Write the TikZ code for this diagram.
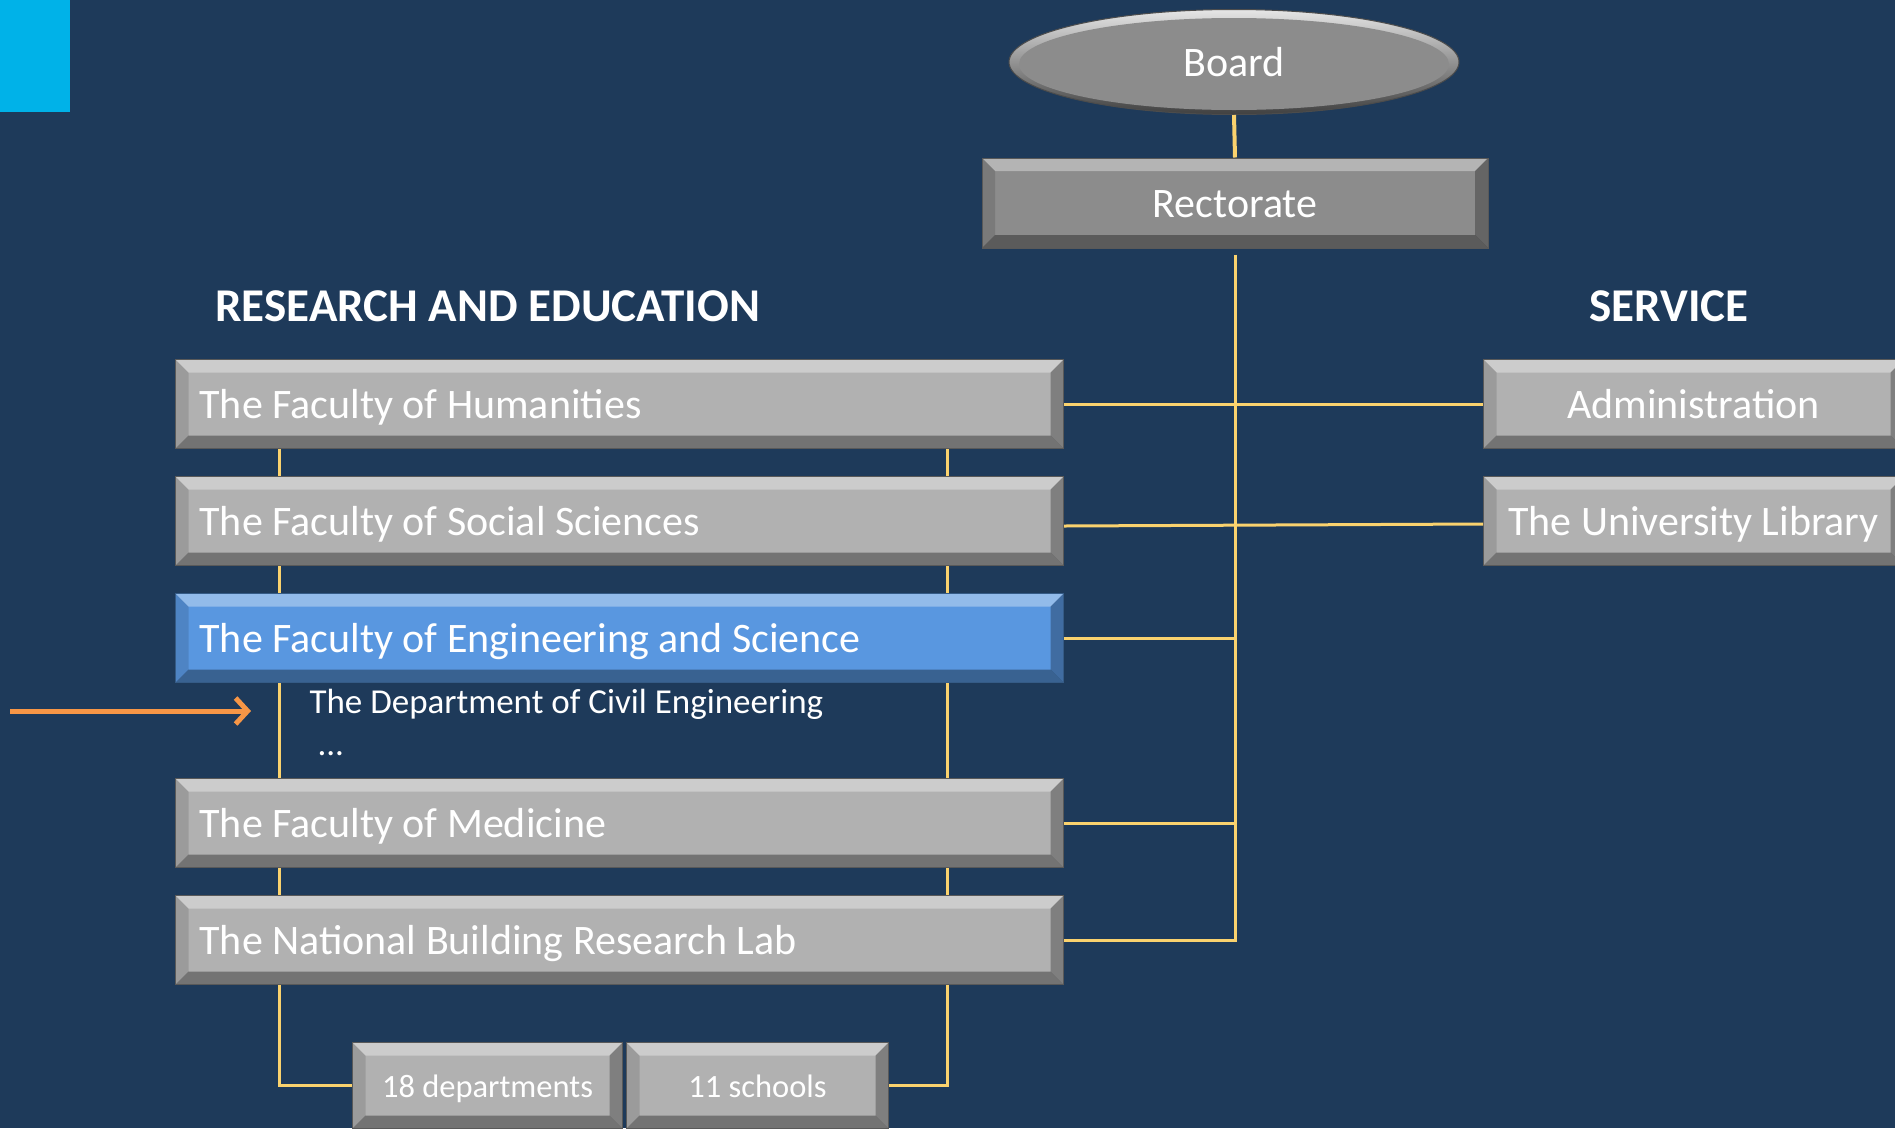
\documentclass[tikz,border=0pt]{standalone}
\usepackage{fontspec}
\setmainfont{Carlito}
\usetikzlibrary{positioning,shapes.geometric,arrows.meta}

\definecolor{slatebg}{RGB}{30,58,90}
\definecolor{cornercyan}{RGB}{0,178,232}
\definecolor{boxgray}{RGB}{177,177,177}
\definecolor{headgray}{RGB}{140,140,140}
\definecolor{facblue}{RGB}{89,151,224}
\definecolor{linkyellow}{RGB}{250,210,110}
\definecolor{pointer}{RGB}{247,150,70}

% bevelled edges drawn inside a rectangular node
\tikzset{
  bevel/.style={path picture={
    \coordinate (bnw) at (path picture bounding box.north west);
    \coordinate (bne) at (path picture bounding box.north east);
    \coordinate (bsw) at (path picture bounding box.south west);
    \coordinate (bse) at (path picture bounding box.south east);
    \fill[white,opacity=.35] (bnw) -- (bne) -- ([shift={(-#1,-#1)}]bne) -- ([shift={(#1,-#1)}]bnw) -- cycle;
    \fill[black,opacity=.35] (bsw) -- (bse) -- ([shift={(-#1,#1)}]bse) -- ([shift={(#1,#1)}]bsw) -- cycle;
    \fill[black,opacity=.12] (bnw) -- (bsw) -- ([shift={(#1,#1)}]bsw) -- ([shift={(#1,-#1)}]bnw) -- cycle;
    \fill[black,opacity=.28] (bne) -- (bse) -- ([shift={(-#1,#1)}]bse) -- ([shift={(-#1,-#1)}]bne) -- cycle;
  }},
  bevel/.default=13pt
}

\begin{document}
\begin{tikzpicture}[
    x=1pt, y=-1pt,
    every node/.style = {text=white, font=\fontsize{42}{50}\selectfont},
    unit/.style = {draw=gray!70!black, line width=1pt, fill=boxgray, bevel, minimum height=89pt, inner sep=0pt,
                   text height=33pt, text depth=4pt},
    faculty/.style = {unit, minimum width=888pt, text width=840pt, align=flush left},
    board/.style = {ellipse, minimum width=450pt, minimum height=105pt, inner sep=0pt,
                    top color=gray!20, bottom color=gray!50!black, draw=gray!60!black, line width=1pt,
                    path picture={\fill[headgray] ([yshift=-2pt]path picture bounding box.center) ellipse (215pt and 46pt);}},
    head/.style = {font=\bfseries\fontsize{47}{54}\selectfont},
    small/.style = {font=\fontsize{35}{42}\selectfont},
    total/.style = {unit, font=\fontsize{32.5}{38}\selectfont, minimum height=86pt, text height=27pt, text depth=4pt},
    link/.style = {draw=linkyellow, line width=3pt},
    pointer arrow/.style = {draw=pointer, line width=5pt, -{Straight Barb[length=12pt,width=26pt]}}
  ]
  \useasboundingbox (0,0) rectangle (1895,1128);
  \fill[slatebg] (0,0) rectangle (1895,1128);
  \fill[cornercyan] (0,0) rectangle (70,112);

  % top of the tree
  \node[board] (board) at (1234,62) {Board};
  \node[unit, fill=headgray, minimum width=506pt, minimum height=90pt] (rector) at (1235,203) {Rectorate};

  % headings
  \node[head, anchor=west] (research) at (212,306) {RESEARCH AND EDUCATION};
  \node[head] (service) at (1669,306) {SERVICE};

  % faculties
  \node[faculty, anchor=north west] (hum) at (175,359) {The Faculty of Humanities};
  \node[faculty, below=27pt of hum] (soc) {The Faculty of Social Sciences};
  \node[faculty, below=27pt of soc, fill=facblue, draw=facblue!60!black] (eng) {The Faculty of Engineering and Science};
  \node[faculty, below=95pt of eng] (med) {The Faculty of Medicine};
  \node[faculty, below=27pt of med] (nbrl) {The National Building Research Lab};

  \node[small, anchor=west] (civil) at (306,704) {The Department of Civil Engineering};
  \node[small, anchor=west] (more) at (314,754) {...};
  \coordinate (pointtail) at (10,711);

  % service units
  \node[unit, minimum width=420pt, anchor=north west] (admin) at (1483,359) {Administration};
  \node[unit, minimum width=420pt, below=27pt of admin] (lib) {The University Library};

  % totals
  \node[total, minimum width=270pt, anchor=north west] (depts) at (352,1042) {18 departments};
  \node[total, minimum width=262pt, right=3pt of depts] (schools) {11 schools};

  % connectors
  \draw[link, line width=4pt] (board.south) -- (rector.north);
  \draw[link] ([yshift=-6pt]rector.south) |- (nbrl.east);
  \draw[link] (hum.east) -- (admin.west);
  \draw[link] ([yshift=-5pt]soc.east) -- ([yshift=-3pt]lib.west);
  \draw[link] (eng.east) -- (eng.east -| rector.south);
  \draw[link] (med.east) -- (med.east -| rector.south);
  \foreach \upper/\lower in {hum/soc, soc/eng, eng/med, med/nbrl} {
    \draw[link] ([xshift=104pt]\upper.south west) -- ([xshift=104pt]\lower.north west);
    \draw[link] ([xshift=772pt]\upper.south west) -- ([xshift=772pt]\lower.north west);
  }
  \draw[link] ([xshift=104pt]nbrl.south west) |- (depts.west);
  \draw[link] ([xshift=772pt]nbrl.south west) |- (schools.east);
  \draw[pointer arrow, shorten >=55pt] (pointtail) -- (pointtail -| civil.west);
\end{tikzpicture}
\end{document}
